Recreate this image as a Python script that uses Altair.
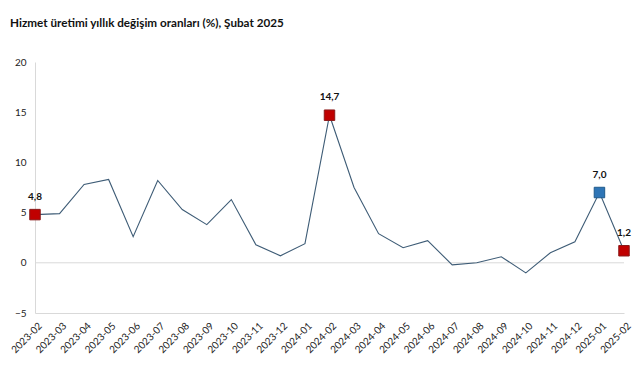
import altair as alt
import pandas as pd

months = ["2023-02", "2023-03", "2023-04", "2023-05", "2023-06", "2023-07", "2023-08",
          "2023-09", "2023-10", "2023-11", "2023-12", "2024-01", "2024-02", "2024-03",
          "2024-04", "2024-05", "2024-06", "2024-07", "2024-08", "2024-09", "2024-10",
          "2024-11", "2024-12", "2025-01", "2025-02"]
values = [4.8, 4.9, 7.8, 8.3, 2.6, 8.2, 5.3, 3.8, 6.3, 1.8, 0.7, 1.9, 14.7, 7.5,
          2.9, 1.5, 2.2, -0.2, 0.0, 0.6, -1.0, 1.0, 2.1, 7.0, 1.2]

marked_months = ["2023-02", "2024-02", "2025-01", "2025-02"]
marked_kind = ["red", "red", "blue", "red"]

title_text = "Hizmet üretimi yıllık değişim oranları (%), Şubat 2025"

df = pd.DataFrame({"month": months, "value": values})
mk = pd.DataFrame({"month": marked_months, "kind": marked_kind,
                   "value": [values[months.index(m)] for m in marked_months]})

FONT = "Lato"

x = alt.X("month:O", sort=months, title=None,
          scale=alt.Scale(type="point", padding=0),
          axis=alt.Axis(labelAngle=-45, labelAlign="right", labelBaseline="middle",
                        labelPadding=11, labelOffset=5, ticks=False,
                        domainColor="#D9D9D9", labelFontSize=10, labelColor="#222222",
                        labelFont=FONT))
y = alt.Y("value:Q", title=None,
          scale=alt.Scale(domain=[-5, 20], nice=False, zero=False),
          axis=alt.Axis(values=[-5, 0, 5, 10, 15, 20], grid=False, ticks=False,
                        domainColor="#D9D9D9", labelPadding=9, labelFontSize=10,
                        labelColor="#222222", labelFont=FONT))

base = alt.Chart(df)

zero = alt.Chart(pd.DataFrame({"z": [0]})).mark_rule(color="#D9D9D9", strokeWidth=1).encode(
    y=alt.Y("z:Q", scale=alt.Scale(domain=[-5, 20], nice=False, zero=False)))

line = base.mark_line(color="#3E5C76", strokeWidth=1.1).encode(x=x, y=y)

points = alt.Chart(mk).mark_point(shape="square", filled=True, size=110, strokeWidth=1, opacity=1).encode(
    x=alt.X("month:O", sort=months),
    y=alt.Y("value:Q"),
    color=alt.Color("kind:N", scale=alt.Scale(domain=["red", "blue"], range=["#C00000", "#2E75B6"]), legend=None),
    stroke=alt.Stroke("kind:N", scale=alt.Scale(domain=["red", "blue"], range=["#8B1A1A", "#1F5A8C"]), legend=None),
)

labels = alt.Chart(mk).transform_calculate(
    lab="replace(format(datum.value, '.1f'), '.', ',')"
).mark_text(dy=-18, fontWeight="bold", fontSize=10, font=FONT, color="#111111").encode(
    x=alt.X("month:O", sort=months),
    y=alt.Y("value:Q"),
    text="lab:N",
)

title = alt.Chart(pd.DataFrame({"t": [title_text]})).mark_text(
    align="left", baseline="alphabetic", fontSize=11.7, fontWeight="bold", font=FONT, color="#111111"
).encode(x=alt.value(-25), y=alt.value(-35), text="t:N")

chart = alt.layer(zero, line, points, labels, title).resolve_scale(color="independent").properties(
    width=589, height=251,
    padding={"left": 27, "top": 54, "right": 9, "bottom": 50},
    autosize=alt.AutoSizeParams(type="none"),
    background="white",
).configure_view(stroke=None)

chart.save("out.html", embed_options={"renderer": "svg", "actions": False})
